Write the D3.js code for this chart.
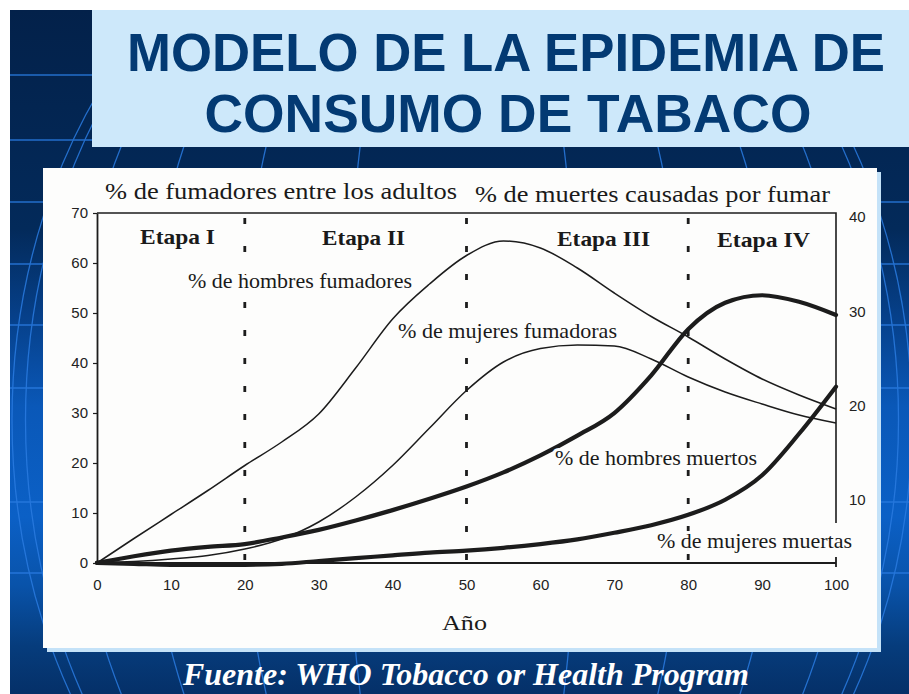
<!DOCTYPE html>
<html>
<head>
<meta charset="utf-8">
<script src="https://cdn.jsdelivr.net/npm/d3@7"></script>
<style>
  html, body { margin: 0; padding: 0; background: #ffffff; }
  svg { display: block; }
</style>
</head>
<body>
<svg id="chart" width="909" height="694"></svg>
<script>
// ---------------- DATA ----------------
const years = [0, 5, 10, 15, 20, 25, 30, 35, 40, 45, 50, 55, 60, 65, 70, 75, 80, 85, 90, 95, 100];

// % de fumadores entre los adultos (left axis)
const menSmokers   = [0, 4.9, 9.7, 14.5, 19.5, 24.2, 29.8, 39, 48.8, 55.8, 61.5, 64.4, 63, 59, 54, 49.3, 45.2, 40.8, 36.8, 33.6, 30.8];
const womenSmokers = [0, 0.3, 0.8, 1.5, 2.8, 4.8, 8.2, 13.2, 19.5, 27, 34.5, 40.2, 42.9, 43.6, 43.4, 40.8, 37.2, 34.2, 31.8, 29.6, 28];

// % de muertes causadas por fumar (right axis)
const menDeaths    = [3.3, 4.0, 4.6, 5.0, 5.3, 6.0, 6.8, 7.8, 8.9, 10.1, 11.4, 12.9, 14.7, 16.8, 19.2, 23.2, 28.1, 30.9, 31.7, 31.0, 29.6];
const womenDeaths  = [3.3, 3.2, 3.1, 3.1, 3.1, 3.2, 3.5, 3.8, 4.1, 4.4, 4.6, 4.9, 5.3, 5.8, 6.5, 7.3, 8.4, 10.0, 12.6, 17.0, 22.0];

const xTicks      = [0, 10, 20, 30, 40, 50, 60, 70, 80, 90, 100];
const yLeftTicks  = [0, 10, 20, 30, 40, 50, 60, 70];
const yRightTicks = [10, 20, 30, 40];

const stageBreaks = [20, 50, 80];
const stageNames  = ["Etapa I", "Etapa II", "Etapa III", "Etapa IV"];
const seriesNames = ["% de hombres fumadores", "% de mujeres fumadoras", "% de hombres muertos", "% de mujeres muertas"];

const titleLines = ["MODELO DE LA EPIDEMIA DE", "CONSUMO DE TABACO"];
const leftHeader  = "% de fumadores entre los adultos";
const rightHeader = "% de muertes causadas por fumar";
const xTitle = "Año";
const sourceText = "Fuente: WHO Tobacco or Health Program";

// ---------------- LAYOUT ----------------
const W = 909, H = 694;
const svg = d3.select("#chart");
const defs = svg.append("defs");

const grad = defs.append("linearGradient").attr("id", "bg").attr("x1", 0).attr("y1", 0).attr("x2", 0).attr("y2", 1);
[[0, "#03214a"], [0.32, "#032a5a"], [0.45, "#06408a"], [0.58, "#0a58b8"], [0.74, "#0b60c6"], [0.84, "#0953aa"], [0.93, "#063c7c"], [1, "#053068"]]
  .forEach(([o, c]) => grad.append("stop").attr("offset", o).attr("stop-color", c));

defs.append("clipPath").attr("id", "bgclip").append("rect").attr("x", 10).attr("y", 10).attr("width", W - 10).attr("height", H - 10);

// white page + dark slide background
svg.append("rect").attr("width", W).attr("height", H).attr("fill", "#ffffff");
svg.append("rect").attr("x", 10).attr("y", 10).attr("width", W - 10).attr("height", H - 10).attr("fill", "url(#bg)");

// globe grid
const globe = svg.append("g").attr("clip-path", "url(#bgclip)")
  .attr("fill", "none").attr("stroke", "#2a7be0").attr("stroke-width", 1.3).attr("opacity", 0.85);
[75, 140, 202, 264, 325, 388, 502, 573].forEach(y => {
  globe.append("line").attr("x1", 10).attr("x2", W).attr("y1", y).attr("y2", y);
});
const gcx = 462, gcy = 420, grx = 450, gry = 556;
[0.26, 0.5, 0.71, 0.87, 0.97, 1.0].forEach(f => {
  globe.append("ellipse").attr("cx", gcx).attr("cy", gcy).attr("rx", grx * f).attr("ry", gry);
});

// title box
svg.append("rect").attr("x", 92).attr("y", 10).attr("width", W - 92).attr("height", 137).attr("fill", "#cde8fa");
const titleG = svg.append("g").attr("font-family", "'Liberation Sans', Arial, sans-serif")
  .attr("font-weight", 700).attr("font-size", 53).attr("fill", "#033a73").attr("text-anchor", "middle");
titleG.append("text").attr("x", 506).attr("y", 71).attr("textLength", 758).attr("lengthAdjust", "spacingAndGlyphs").text(titleLines[0]);
titleG.append("text").attr("x", 508).attr("y", 132).attr("textLength", 607).attr("lengthAdjust", "spacingAndGlyphs").text(titleLines[1]);

// chart panel
svg.append("rect").attr("x", 47).attr("y", 172).attr("width", 834).attr("height", 480).attr("fill", "#c4e2f8");
svg.append("rect").attr("x", 43).attr("y", 168).attr("width", 834).attr("height", 480).attr("fill", "#fdfdfc");

// scales
const x  = d3.scaleLinear().domain([0, 100]).range([97, 836]);
const yL = d3.scaleLinear().domain([0, 70]).range([563, 213]);
const yR = d3.scaleLinear().domain([0, 40]).range([594, 217]);

const ink = "#1c1c1c";
const plot = svg.append("g");

// frame: top + right + bottom
plot.append("path")
  .attr("d", `M${x(0)},${yL(70)} H${x(100)} V523`)
  .attr("fill", "none").attr("stroke", ink).attr("stroke-width", 1.6);
plot.append("path")
  .attr("d", `M${x(0)},${yL(0)} H${x(100)} M${x(100)},${yL(0) - 6} V${yL(0) + 4}`)
  .attr("fill", "none").attr("stroke", ink).attr("stroke-width", 1.8);

// left axis
const axL = plot.append("g").attr("transform", `translate(${x(0)},0)`)
  .call(d3.axisLeft(yL).tickValues(yLeftTicks).tickSize(4).tickSizeOuter(0).tickPadding(5).tickFormat(d3.format("d")));
axL.select(".domain").attr("stroke", ink).attr("stroke-width", 1.8);
axL.selectAll(".tick line").attr("stroke", ink).attr("stroke-width", 1.2);
axL.selectAll("text").attr("font-family", "'Liberation Sans', Arial, sans-serif").attr("font-size", 15).attr("fill", "#222");

// bottom axis labels
const axB = plot.append("g").attr("transform", `translate(0,${yL(0)})`)
  .call(d3.axisBottom(x).tickValues(xTicks).tickSize(0).tickPadding(16).tickFormat(d3.format("d")));
axB.select(".domain").remove();
axB.selectAll("text").attr("font-family", "'Liberation Sans', Arial, sans-serif").attr("font-size", 15).attr("fill", "#222");

// right axis labels
const axR = plot.append("g").attr("transform", `translate(${x(100)},0)`)
  .call(d3.axisRight(yR).tickValues(yRightTicks).tickSize(0).tickPadding(13).tickFormat(d3.format("d")));
axR.select(".domain").remove();
axR.selectAll("text").attr("font-family", "'Liberation Sans', Arial, sans-serif").attr("font-size", 15).attr("fill", "#222");

// stage dividers
plot.selectAll("line.stage").data(stageBreaks).enter().append("line")
  .attr("class", "stage")
  .attr("x1", d => x(d)).attr("x2", d => x(d))
  .attr("y1", yL(70) + 5).attr("y2", yL(0))
  .attr("stroke", ink).attr("stroke-width", 2.8).attr("stroke-dasharray", "6,22");

// series lines
const lineL = d3.line().x((d, i) => x(years[i])).y(d => yL(d)).curve(d3.curveMonotoneX);
const lineR = d3.line().x((d, i) => x(years[i])).y(d => yR(d)).curve(d3.curveMonotoneX);

plot.append("path").datum(menSmokers).attr("d", lineL).attr("fill", "none").attr("stroke", ink).attr("stroke-width", 1.5);
plot.append("path").datum(womenSmokers).attr("d", lineL).attr("fill", "none").attr("stroke", ink).attr("stroke-width", 1.5);
plot.append("path").datum(menDeaths).attr("d", lineR).attr("fill", "none").attr("stroke", ink).attr("stroke-width", 4.2).attr("stroke-linecap", "round");
plot.append("path").datum(womenDeaths).attr("d", lineR).attr("fill", "none").attr("stroke", ink).attr("stroke-width", 4.2).attr("stroke-linecap", "round");

// text labels (serif)
const serif = "'Liberation Serif', 'Times New Roman', serif";
function label(txt, px, py, size, len, weight, halo) {
  const t = plot.append("text").attr("x", px).attr("y", py)
    .attr("font-family", serif).attr("font-size", size).attr("font-weight", weight || 400)
    .attr("fill", "#1a1a1a").attr("textLength", len).attr("lengthAdjust", "spacingAndGlyphs").text(txt);
  if (halo) t.attr("stroke", "#fdfdfc").attr("stroke-width", 6).attr("paint-order", "stroke").attr("stroke-linejoin", "round");
}
label(leftHeader, 105, 199, 24, 352);
label(rightHeader, 475, 202, 24, 355);

const stageLayout = [[140, 244, 75], [322, 245, 83], [557, 246, 93], [717, 247, 93]];
stageNames.forEach((s, i) => label(s, stageLayout[i][0], stageLayout[i][1], 22, stageLayout[i][2], 700));

const seriesLayout = [[188, 288, 224], [398, 338, 219], [555, 465, 202], [657, 548, 195]];
seriesNames.forEach((s, i) => label(s, seriesLayout[i][0], seriesLayout[i][1], 21, seriesLayout[i][2], 400, true));

label(xTitle, 442, 630, 22, 45);

// source
svg.append("text").attr("x", 183).attr("y", 685)
  .attr("font-family", serif).attr("font-size", 31).attr("font-weight", 700).attr("font-style", "italic")
  .attr("fill", "#ffffff").attr("textLength", 566).attr("lengthAdjust", "spacingAndGlyphs").text(sourceText);
</script>
</body>
</html>
